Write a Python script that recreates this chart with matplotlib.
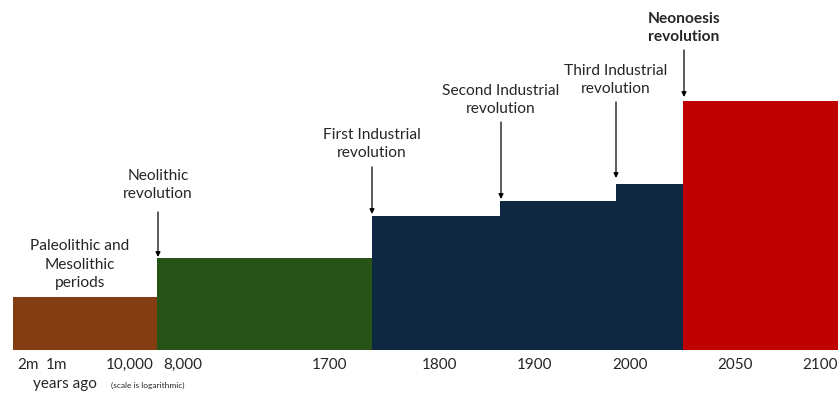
import matplotlib.pyplot as plt

plt.rcParams["font.family"] = ["Lato", "DejaVu Sans"]

# schematic timeline (units are arbitrary positions along the axis)
seg_edges = [0, 144, 359, 487, 603, 670, 825]
seg_levels = [53, 92, 134, 149, 166, 249]
seg_colors = ["#843C12", "#275317", "#0E2841", "#0E2841", "#0E2841", "#C00000"]

tick_pos = [15, 44, 117, 170, 317, 427, 522, 617, 722, 807]
tick_labels = ["2m", "1m", "10,000", "8,000", "1700", "1800", "1900", "2000", "2050", "2100"]

# revolutions: arrow x, arrow tail/head (y), label y
rev_labels = ["Neolithic\nrevolution", "First Industrial\nrevolution",
              "Second Industrial\nrevolution", "Third Industrial\nrevolution",
              "Neonoesis\nrevolution"]
rev_x = [145, 359, 488, 603, 671]
rev_tail = [138, 183, 228, 248, 300]
rev_head = [93, 136, 151, 172, 253]
rev_text_y = [165, 206, 250, 270, 322]

txt_col = "#262626"

fig = plt.figure(figsize=(8.38, 3.93), dpi=100)
ax = fig.add_axes([13 / 838, 43 / 393, 825 / 838, 350 / 393])

for i in range(len(seg_levels)):
    ax.bar(seg_edges[i], seg_levels[i], width=seg_edges[i + 1] - seg_edges[i],
           align="edge", color=seg_colors[i], linewidth=0)

ax.text(67, 60, "Paleolithic and\nMesolithic\nperiods", ha="center", va="bottom",
        fontsize=11.2, linespacing=1.4, color=txt_col)

for i, lab in enumerate(rev_labels):
    ax.annotate("", xy=(rev_x[i], rev_head[i]), xytext=(rev_x[i], rev_tail[i]),
                arrowprops=dict(arrowstyle="-|>", lw=0.9, color="black",
                                mutation_scale=7, shrinkA=0, shrinkB=0))
    ax.text(rev_x[i], rev_text_y[i], lab, ha="center", va="center",
            fontsize=11.2, linespacing=1.4, color=txt_col,
            fontweight="bold" if i == len(rev_labels) - 1 else "normal")

ax.set_xlim(0, 825)
ax.set_ylim(0, 350)
ax.set_xticks(tick_pos)
ax.set_xticklabels(tick_labels, fontsize=11, color=txt_col)
ax.tick_params(axis="x", length=0, pad=6)
ax.set_yticks([])
for s in ax.spines.values():
    s.set_visible(False)

fig.text(65 / 838, 1 - 384 / 393, "years ago", ha="center", va="center",
         fontsize=11, color=txt_col)
fig.text(148 / 838, 1 - 385 / 393, "(scale is logarithmic)", ha="center",
         va="center", fontsize=6, color=txt_col)

fig.savefig("out.png", dpi=100)
